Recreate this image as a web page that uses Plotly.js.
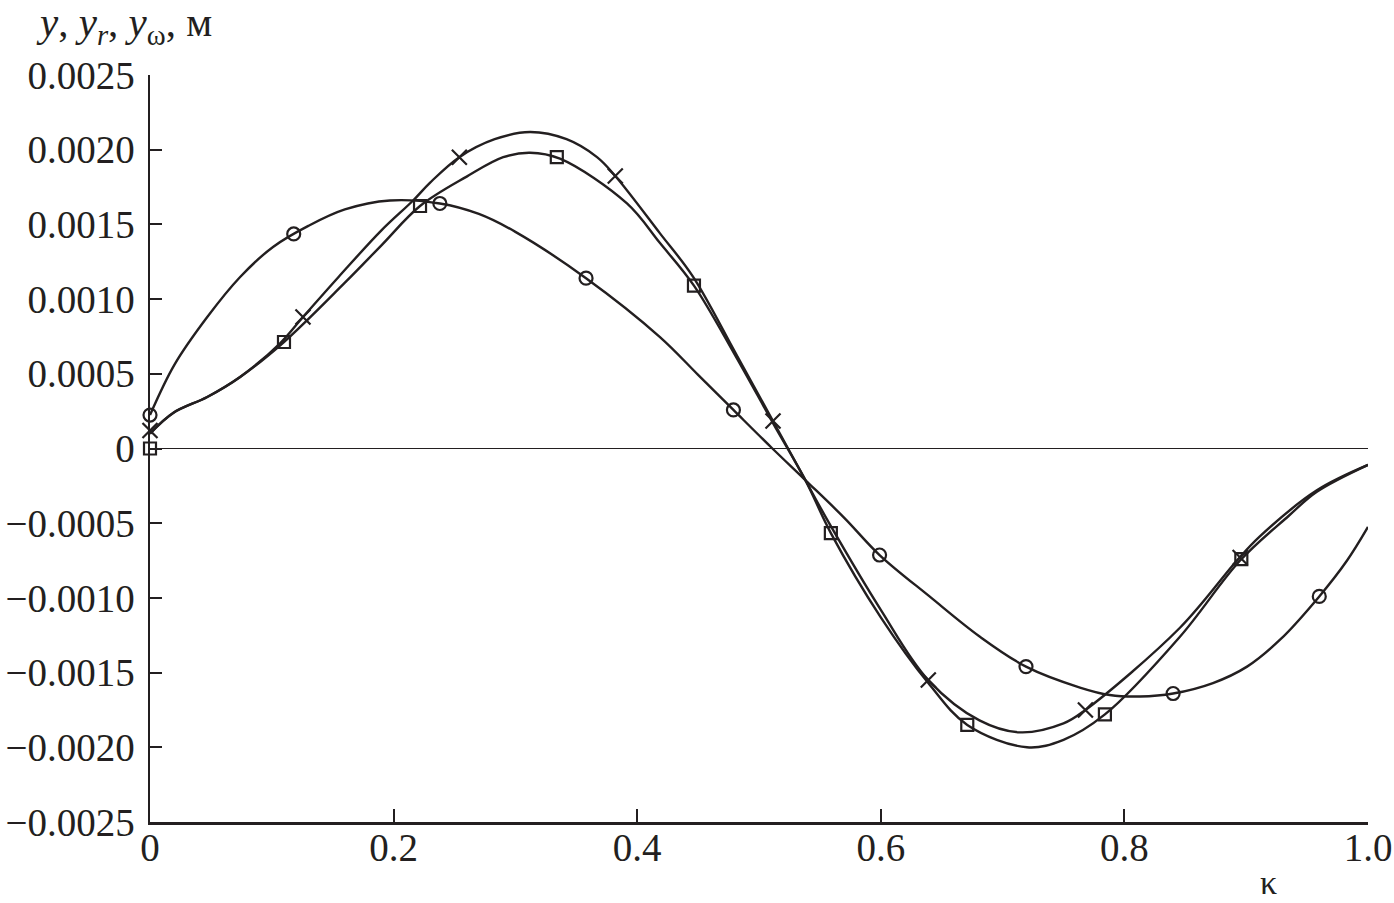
<!DOCTYPE html>
<html>
<head>
<meta charset="utf-8">
<script src="https://cdn.plot.ly/plotly-3.0.1.min.js"></script>
<style>html,body{margin:0;padding:0;background:#fff;}#chart{width:1394px;height:903px;}</style>
</head>
<body>
<div id="chart"></div>
<script>
// Curve with circle markers
var circLineX = [0, 0.02, 0.047, 0.074, 0.101, 0.13, 0.16, 0.197, 0.238, 0.27, 0.30, 0.358, 0.4187, 0.45, 0.479, 0.511, 0.538, 0.57, 0.599, 0.64, 0.6814, 0.7192, 0.7635, 0.788, 0.8128, 0.84, 0.8727, 0.9007, 0.9278, 0.96, 0.9828, 1.0];
var circLineY = [0.000224, 0.00056, 0.00088, 0.001148, 0.001349, 0.00149, 0.0016, 0.00166, 0.00164, 0.00157, 0.00145, 0.00114, 0.000746, 0.000493, 0.000258, 0.0, -0.000211, -0.000464, -0.000713, -0.00099, -0.00126, -0.00146, -0.0016, -0.00165, -0.00166, -0.00164, -0.00157, -0.00146, -0.00128, -0.00099, -0.00075, -0.000525];
var circMarkX = [0, 0.118, 0.238, 0.358, 0.479, 0.599, 0.7192, 0.84, 0.96];
var circMarkY = [0.000224, 0.001436, 0.00164, 0.00114, 0.000258, -0.000713, -0.00146, -0.00164, -0.00099];

// Curve with cross markers
var crossLineX = [0, 0.019, 0.047, 0.074, 0.107, 0.1256, 0.155, 0.19, 0.216, 0.23, 0.254, 0.283, 0.312, 0.342, 0.367, 0.382, 0.4187, 0.4458, 0.48, 0.5115, 0.538, 0.559, 0.60, 0.639, 0.681, 0.714, 0.75, 0.768, 0.8456, 0.8924, 0.911, 0.958, 1.0];
var crossLineY = [0.0001, 0.000238, 0.000345, 0.000479, 0.000706, 0.00088, 0.00115, 0.00146, 0.00166, 0.00178, 0.00195, 0.00207, 0.002118, 0.00207, 0.00195, 0.001824, 0.00144, 0.00115, 0.00065, 0.000184, -0.000211, -0.00052, -0.00108, -0.00155, -0.00182, -0.0019, -0.00184, -0.00175, -0.0012, -0.00075, -0.00059, -0.00028, -0.00011];
var crossMarkX = [0, 0.1256, 0.254, 0.382, 0.5115, 0.639, 0.768, 0.895];
var crossMarkY = [0.00012, 0.00088, 0.00195, 0.001824, 0.000184, -0.00155, -0.00175, -0.00073];

// Curve with square markers
var sqLineX = [0, 0.019, 0.047, 0.074, 0.11, 0.16, 0.19, 0.2217, 0.26, 0.29, 0.312, 0.3366, 0.3916, 0.4187, 0.4466, 0.48, 0.5115, 0.538, 0.559, 0.60, 0.639, 0.671, 0.72, 0.75, 0.784, 0.8456, 0.895, 0.935, 0.958, 1.0];
var sqLineY = [0.0001, 0.000238, 0.000345, 0.000479, 0.000713, 0.00111, 0.00136, 0.001623, 0.00182, 0.00195, 0.00198, 0.00194, 0.00164, 0.001375, 0.00109, 0.00063, 0.00017, -0.00021, -0.000566, -0.00113, -0.00157, -0.00185, -0.002, -0.00195, -0.00178, -0.00126, -0.00075, -0.00045, -0.00029, -0.00011];
var sqMarkX = [0, 0.11, 0.2217, 0.334, 0.4466, 0.559, 0.671, 0.784, 0.896];
var sqMarkY = [0, 0.000713, 0.001623, 0.00195, 0.00109, -0.000566, -0.00185, -0.00178, -0.00074];

var xTickVals = [0, 0.2, 0.4, 0.6, 0.8, 1.0];
var xTickText = ["0", "0.2", "0.4", "0.6", "0.8", "1.0"];
var yTickVals = [0.0025, 0.002, 0.0015, 0.001, 0.0005, 0, -0.0005, -0.001, -0.0015, -0.002, -0.0025];
var yTickText = ["0.0025", "0.0020", "0.0015", "0.0010", "0.0005", "0", "\u22120.0005", "\u22120.0010", "\u22120.0015", "\u22120.0020", "\u22120.0025"];

var ink = "#231f20";
function lineTrace(x, y) {
  return {x: x, y: y, mode: "lines", type: "scatter", line: {color: ink, width: 2.4, shape: "spline", smoothing: 1}, hoverinfo: "skip", cliponaxis: true};
}
function markTrace(x, y, sym, size) {
  return {x: x, y: y, mode: "markers", type: "scatter", marker: {symbol: sym, size: size, color: ink, line: {color: ink, width: 2.2}}, cliponaxis: false};
}
var traces = [
  lineTrace(circLineX, circLineY),
  lineTrace(crossLineX, crossLineY),
  lineTrace(sqLineX, sqLineY),
  markTrace(circMarkX, circMarkY, "circle-open", 13),
  markTrace(crossMarkX, crossMarkY, "x-thin-open", 15),
  markTrace(sqMarkX, sqMarkY, "square-open", 12)
];

var font = {family: "Liberation Serif, Times New Roman, serif", size: 39, color: ink};
var layout = {
  width: 1394, height: 903,
  margin: {l: 150, r: 26, t: 75, b: 81},
  paper_bgcolor: "#ffffff", plot_bgcolor: "#ffffff",
  showlegend: false,
  font: font,
  xaxis: {
    range: [0, 1], tickvals: xTickVals, ticktext: xTickText,
    ticks: "inside", ticklen: 13, tickwidth: 2, tickcolor: ink,
    showline: true, linecolor: ink, linewidth: 2.5, mirror: false,
    showgrid: false, zeroline: false, tickfont: font, ticklabelstandoff: -10
  },
  yaxis: {
    range: [-0.0025, 0.0025], tickvals: yTickVals, ticktext: yTickText,
    ticks: "inside", ticklen: 12, tickwidth: 2, tickcolor: ink,
    showline: true, linecolor: ink, linewidth: 2.5, mirror: false,
    showgrid: false, zeroline: true, zerolinecolor: ink, zerolinewidth: 1.8,
    tickfont: font, ticklabelstandoff: 5
  },
  annotations: [
    {xref: "paper", yref: "paper", x: -0.095, y: 1.0, yshift: 50, xanchor: "left", yanchor: "middle", showarrow: false,
     text: "<i>y</i>, <i>y</i><sub><i>r</i></sub>, <i>y</i><sub>\u03c9</sub>, \u043c", font: {family: font.family, size: 41, color: ink}},
    {xref: "paper", yref: "paper", x: 0.918, y: 0, yshift: -60, xanchor: "center", yanchor: "middle", showarrow: false,
     text: "\u03ba", font: {family: font.family, size: 34, color: ink}}
  ]
};
Plotly.newPlot("chart", traces, layout, {displayModeBar: false, staticPlot: true});
</script>
</body>
</html>
